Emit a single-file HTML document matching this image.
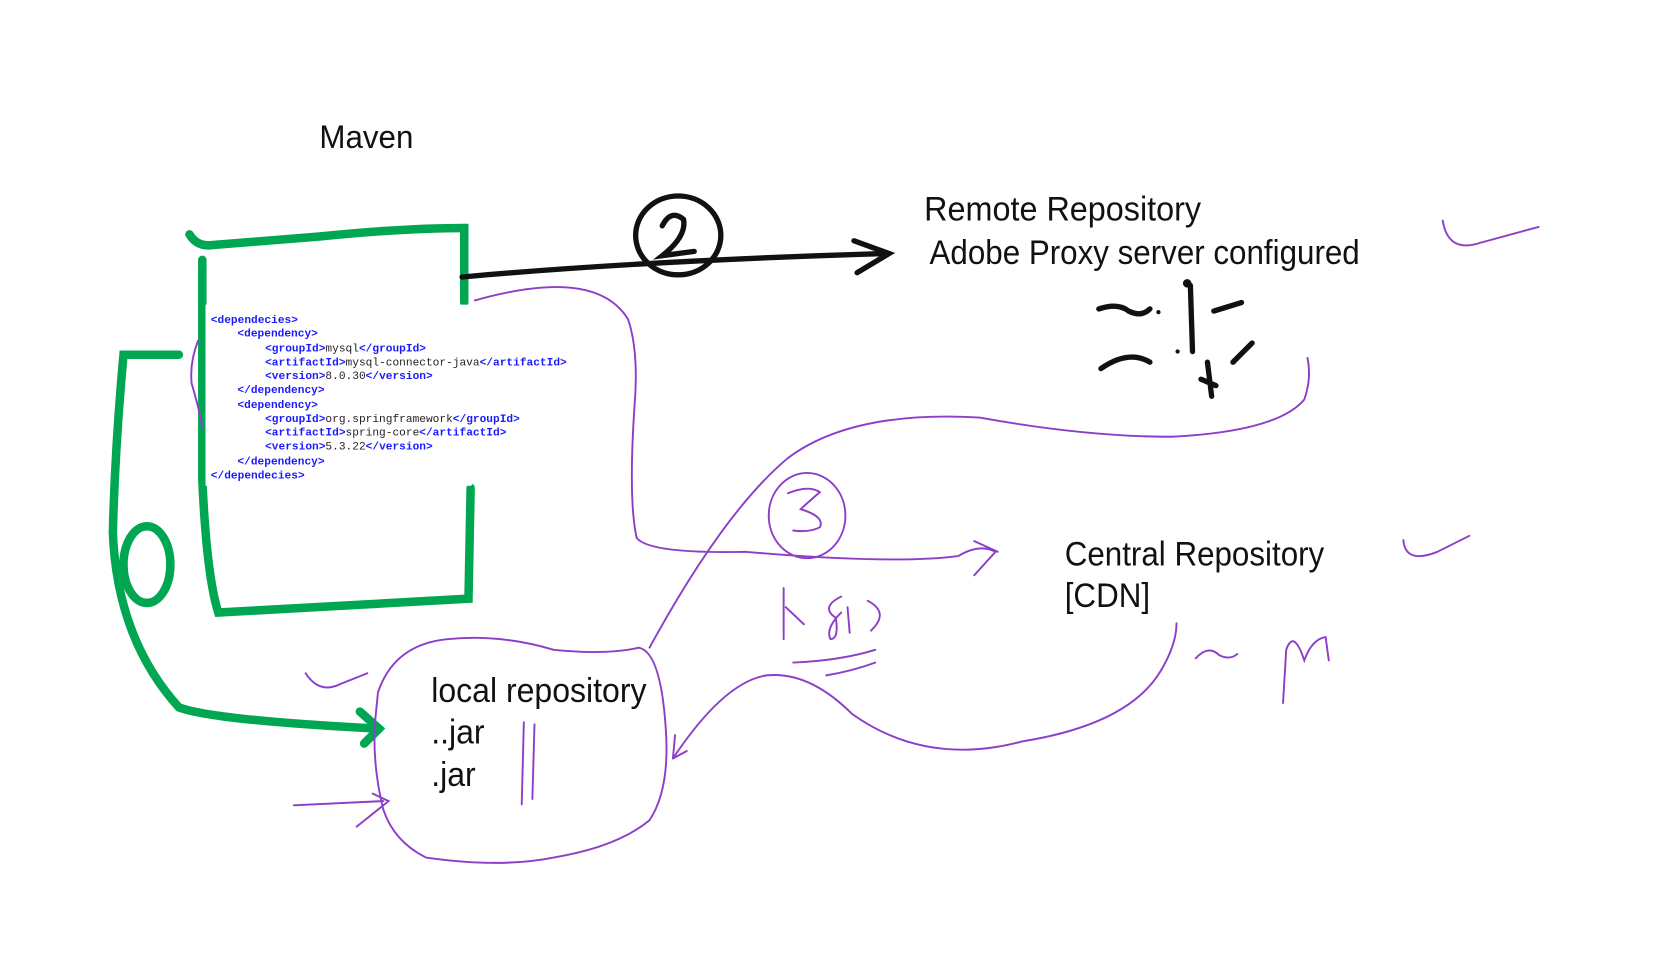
<!DOCTYPE html>
<html><head><meta charset="utf-8"><style>
html,body{margin:0;padding:0;background:#fff;width:1661px;height:963px;overflow:hidden}
svg{display:block}
.h{font-family:"Liberation Sans Narrow","Liberation Sans",sans-serif;fill:#111}
.c{font-family:"Liberation Mono",monospace;font-size:10.5px}
.t{fill:#1a1aff;font-weight:bold}
.v{fill:#222}
</style></head><body>
<svg width="1661" height="963" viewBox="0 0 1560 904" preserveAspectRatio="none" xmlns="http://www.w3.org/2000/svg">
<rect width="1560" height="904" fill="#fff"/>
<text class="h" x="300" y="139" font-size="30" transform="translate(300 0) scale(0.98 1) translate(-300 0)">Maven</text>
<g fill="none" stroke="#00a651" stroke-width="8" stroke-linecap="round">
<path d="M178 220 Q185 232 200 230 L300 222 Q380 214 436 214 L436 284"/>
<path d="M190 244 L190 450 Q194 540 205 575 L440 562 L442 458"/>
<path d="M168 333 L116 333 Q108 420 106 500 Q110 600 168 664 Q200 676 355 684"/>
<path d="M338 668 L356 684 L342 698"/>
<ellipse cx="138" cy="530" rx="22" ry="36"/>
</g>
<rect x="193" y="286" width="250" height="170" fill="#fff"/>
<g class="c">
<text x="198" y="303"><tspan class="t">&lt;dependecies&gt;</tspan></text>
<text x="223" y="316"><tspan class="t">&lt;dependency&gt;</tspan></text>
<text x="249" y="330"><tspan class="t">&lt;groupId&gt;</tspan><tspan class="v">mysql</tspan><tspan class="t">&lt;/groupId&gt;</tspan></text>
<text x="249" y="343"><tspan class="t">&lt;artifactId&gt;</tspan><tspan class="v">mysql-connector-java</tspan><tspan class="t">&lt;/artifactId&gt;</tspan></text>
<text x="249" y="356"><tspan class="t">&lt;version&gt;</tspan><tspan class="v">8.0.30</tspan><tspan class="t">&lt;/version&gt;</tspan></text>
<text x="223" y="369"><tspan class="t">&lt;/dependency&gt;</tspan></text>
<text x="223" y="383"><tspan class="t">&lt;dependency&gt;</tspan></text>
<text x="249" y="396"><tspan class="t">&lt;groupId&gt;</tspan><tspan class="v">org.springframework</tspan><tspan class="t">&lt;/groupId&gt;</tspan></text>
<text x="249" y="409"><tspan class="t">&lt;artifactId&gt;</tspan><tspan class="v">spring-core</tspan><tspan class="t">&lt;/artifactId&gt;</tspan></text>
<text x="249" y="422"><tspan class="t">&lt;version&gt;</tspan><tspan class="v">5.3.22</tspan><tspan class="t">&lt;/version&gt;</tspan></text>
<text x="223" y="436"><tspan class="t">&lt;/dependency&gt;</tspan></text>
<text x="198" y="449"><tspan class="t">&lt;/dependecies&gt;</tspan></text>
</g>
<g fill="none" stroke="#111" stroke-width="5" stroke-linecap="round">
<path d="M434 260 Q600 245 830 238"/>
<path d="M802 226 L835 238 L805 256"/>
<ellipse cx="637" cy="221" rx="40" ry="37"/>
<path d="M622 212 Q630 196 642 206 Q645 222 622 240 L652 236"/>
<path d="M1032 290 Q1050 284 1060 292 Q1072 298 1080 290 M1118 268 L1120 330 M1140 292 L1166 284 M1034 346 Q1060 328 1080 340 M1134 340 L1138 372 M1128 356 L1142 362 M1158 340 L1176 322"/>
</g>
<circle cx="1115" cy="266" r="4" fill="#111"/><circle cx="1088" cy="293" r="2" fill="#111"/><circle cx="1106" cy="330" r="2" fill="#111"/>
<text class="h" x="868" y="207" font-size="32" transform="translate(868 0) scale(0.95 1) translate(-868 0)">Remote Repository</text>
<text class="h" x="873" y="248" font-size="32" transform="translate(873 0) scale(0.92 1) translate(-873 0)">Adobe Proxy server configured</text>
<text class="h" x="1000" y="531" font-size="32" transform="translate(1000 0) scale(0.92 1) translate(-1000 0)">Central Repository</text>
<text class="h" x="1000" y="570" font-size="32" transform="translate(1000 0) scale(0.92 1) translate(-1000 0)">[CDN]</text>
<text class="h" x="405" y="659" font-size="32" transform="translate(405 0) scale(0.94 1) translate(-405 0)">local repository</text>
<text class="h" x="405" y="698" font-size="32" transform="translate(405 0) scale(0.94 1) translate(-405 0)">..jar</text>
<text class="h" x="405" y="738" font-size="32" transform="translate(405 0) scale(0.94 1) translate(-405 0)">.jar</text>
<g fill="none" stroke="#8b3fc9" stroke-width="1.8" stroke-linecap="round">
<path d="M446 282 Q560 250 590 300 Q600 330 596 380 Q590 470 598 505 Q610 520 700 518 Q840 530 900 522 Q920 510 935 518 L915 540 M915 508 L937 518"/>
<path d="M610 608 Q680 480 740 430 Q800 385 920 392 Q1020 410 1100 410 Q1200 405 1225 375 Q1232 355 1228 336"/>
<ellipse cx="758" cy="484" rx="36" ry="40"/>
<path d="M740 463 Q760 455 770 462 Q755 475 752 478 Q775 485 770 495 Q760 500 745 498"/>
<path d="M736 552 L736 600 M738 570 L755 586 M790 560 Q770 570 785 580 Q788 600 780 600 Q775 590 790 575 M798 594 L796 570 M815 564 Q836 575 818 592"/>
<path d="M745 622 Q790 620 822 610 M776 634 Q800 630 822 622"/>
<path d="M355 650 Q370 605 420 600 Q470 595 520 610 Q570 615 600 608 Q620 612 625 680 Q630 740 610 770 Q580 795 520 805 Q470 815 400 805 Q370 790 360 760 Q350 720 352 680 Z"/>
<path d="M632 712 Q680 640 720 634 Q760 630 800 670 Q870 720 960 696 Q1060 680 1090 630 Q1105 605 1105 585"/>
<path d="M632 712 L645 705 M632 712 L634 690"/>
<path d="M492 678 L490 755 M502 680 L500 750"/>
<path d="M276 756 L360 752 M350 745 L365 752 L335 776"/>
<path d="M287 632 Q300 652 320 642 L345 632"/>
<path d="M1355 207 Q1360 238 1390 228 L1445 213"/>
<path d="M1318 507 Q1320 530 1350 518 L1380 503"/>
<path d="M1123 618 Q1135 605 1145 615 Q1155 620 1162 614 M1205 660 L1208 610 Q1215 590 1225 620 Q1232 600 1245 598 L1248 620"/>
<path d="M186 320 Q178 340 180 360 Q186 380 190 400"/>
</g>
</svg>
</body></html>
